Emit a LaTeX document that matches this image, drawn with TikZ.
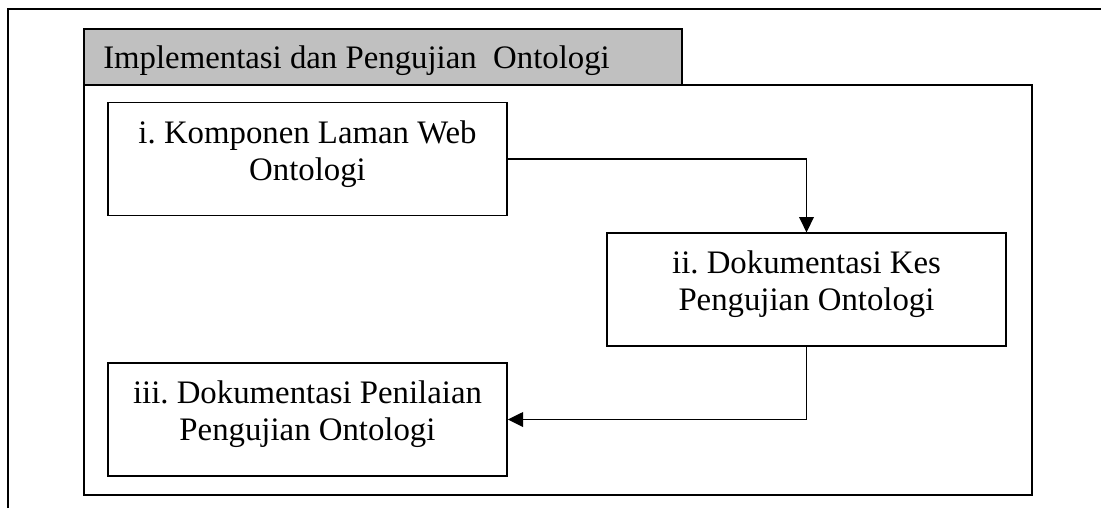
\documentclass[tikz,border=0pt]{standalone}
\usepackage{fontspec}
\setmainfont{Liberation Serif}
\usetikzlibrary{arrows.meta}
\definecolor{hdrgray}{HTML}{C0C0C0}
\frenchspacing
\begin{document}
\begin{tikzpicture}[x=0.75pt,y=-0.75pt,
  frame/.style={line width=1.4pt},
  stepbox/.style={draw, line width=1.2pt, minimum width=299.25pt, minimum height=84.5pt, inner sep=0pt},
  boxtext/.style={align=center, font=\fontsize{24.6pt}{27.6pt}\selectfont, inner sep=0pt},
  arr/.style={line width=1.3pt, -{Triangle[length=11.5pt,width=11pt]}}]
\useasboundingbox (0,0) rectangle (1101,508);
% page border (left and top edges)
\coordinate (pgA) at (8,508);
\coordinate (pgB) at (8,9);
\coordinate (pgC) at (1101,9);
\draw[frame] (pgA) -- (pgB) -- (pgC);
% title tab and its frame
\node[draw, frame, fill=hdrgray, anchor=north west, minimum width=448.5pt, minimum height=42pt, inner sep=0pt] (hdr) at (83,28) {};
\node[draw, frame, anchor=north west, minimum width=711pt, minimum height=307.5pt, inner sep=0pt] (panel) at (83,84) {};
\node[anchor=base west, font=\fontsize{24.6pt}{27.6pt}\selectfont, inner sep=0pt] (hdrtext) at (103,68) {Implementasi dan Pengujian\ \ Ontologi};
% steps
\node[stepbox, label={[boxtext, yshift=3.75pt]center:{i. Komponen Laman Web\\Ontologi}}] (s1) at (307.5,159) {};
\node[stepbox, label={[boxtext, yshift=3.75pt]center:{ii. Dokumentasi Kes\\Pengujian Ontologi}}] (s2) at (806.5,289.5) {};
\node[stepbox, label={[boxtext, yshift=3.75pt]center:{iii. Dokumentasi Penilaian\\Pengujian Ontologi}}] (s3) at (307.5,419.5) {};
% flow
\draw[arr] (s1.east) -| (s2.north);
\draw[arr] (s2.south) |- (s3.east);
\end{tikzpicture}
\end{document}
